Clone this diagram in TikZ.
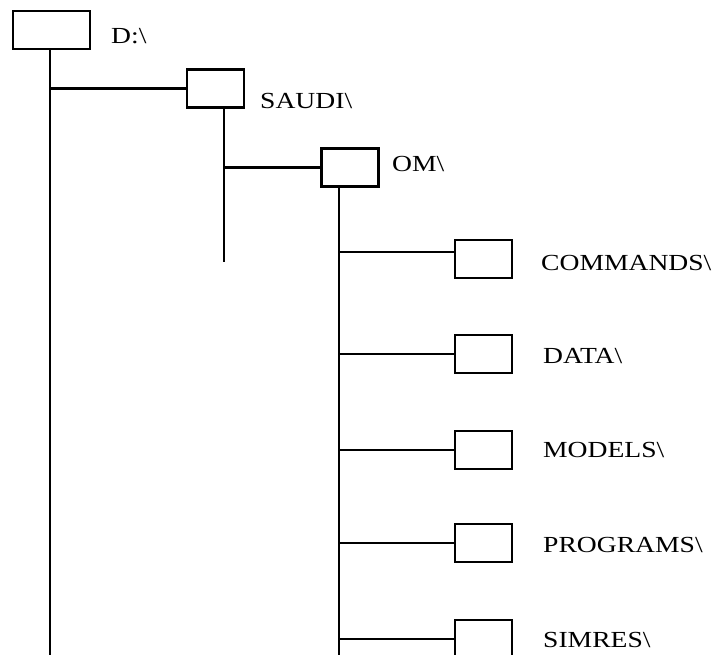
\documentclass[tikz,border=0pt]{standalone}
\usepackage{fontspec}
\setmainfont{Liberation Serif}
\newcommand{\wlbl}[1]{\scalebox{1.2}[1]{#1}}
\begin{document}
\begin{tikzpicture}[x=1pt,y=-1pt,
  dirbox/.style={draw=black, line width=2.5pt, inner sep=0pt, minimum width=57pt, minimum height=38pt},
  dirlbl/.style={anchor=base west, inner sep=0pt, font=\fontsize{23}{27}\selectfont},
  link/.style={line width=2.5pt, line cap=rect}]
\useasboundingbox (0,0) rectangle (712,654);
% boxes
\node[dirbox, minimum width=77pt] (d) at (51.5,30) {};
\node[dirbox] (saudi) at (215.5,88.5) {};
\node[dirbox] (om) at (350,167.5) {};
\node[dirbox] (c1) at (483.5,259) {};
\node[dirbox] (c2) at (483.5,354) {};
\node[dirbox] (c3) at (483.5,450) {};
\node[dirbox] (c4) at (483.5,543) {};
\node[dirbox] (c5) at (483.5,639) {};
% labels
\node[dirlbl] (ld) at (111,43) {\wlbl{D:\textbackslash}};
\node[dirlbl] (lsaudi) at (260,108) {\wlbl{SAUDI\textbackslash}};
\node[dirlbl] (lom) at (392,171) {\wlbl{OM\textbackslash}};
\node[dirlbl] (l1) at (541,270) {\wlbl{COMMANDS\textbackslash}};
\node[dirlbl] (l2) at (543,363) {\wlbl{DATA\textbackslash}};
\node[dirlbl] (l3) at (543,457) {\wlbl{MODELS\textbackslash}};
\node[dirlbl] (l4) at (543,552) {\wlbl{PROGRAMS\textbackslash}};
\node[dirlbl] (l5) at (543,647) {\wlbl{SIMRES\textbackslash}};
% trunk end points
\coordinate (dend) at (50,656);
\coordinate (saudiend) at (224,262);
\coordinate (omend) at (339,656);
\coordinate (c1in) at ([yshift=7pt]c1.west);
% trunks
\draw[link, line cap=butt] ([xshift=-1.5pt]d.south) -- (dend);
\draw[link, line cap=butt] ([xshift=8.5pt]saudi.south) -- (saudiend);
\draw[link, line cap=butt] ([xshift=-11pt]om.south) -- (omend);
% branches
\draw[link] (dend |- saudi.west) -- (saudi.west);
\draw[link] (saudiend |- om.west) -- (om.west);
\draw[link] (omend |- c1in) -- (c1in);
\draw[link] (omend |- c2.west) -- (c2.west);
\draw[link] (omend |- c3.west) -- (c3.west);
\draw[link] (omend |- c4.west) -- (c4.west);
\draw[link] (omend |- c5.west) -- (c5.west);
\end{tikzpicture}
\end{document}
